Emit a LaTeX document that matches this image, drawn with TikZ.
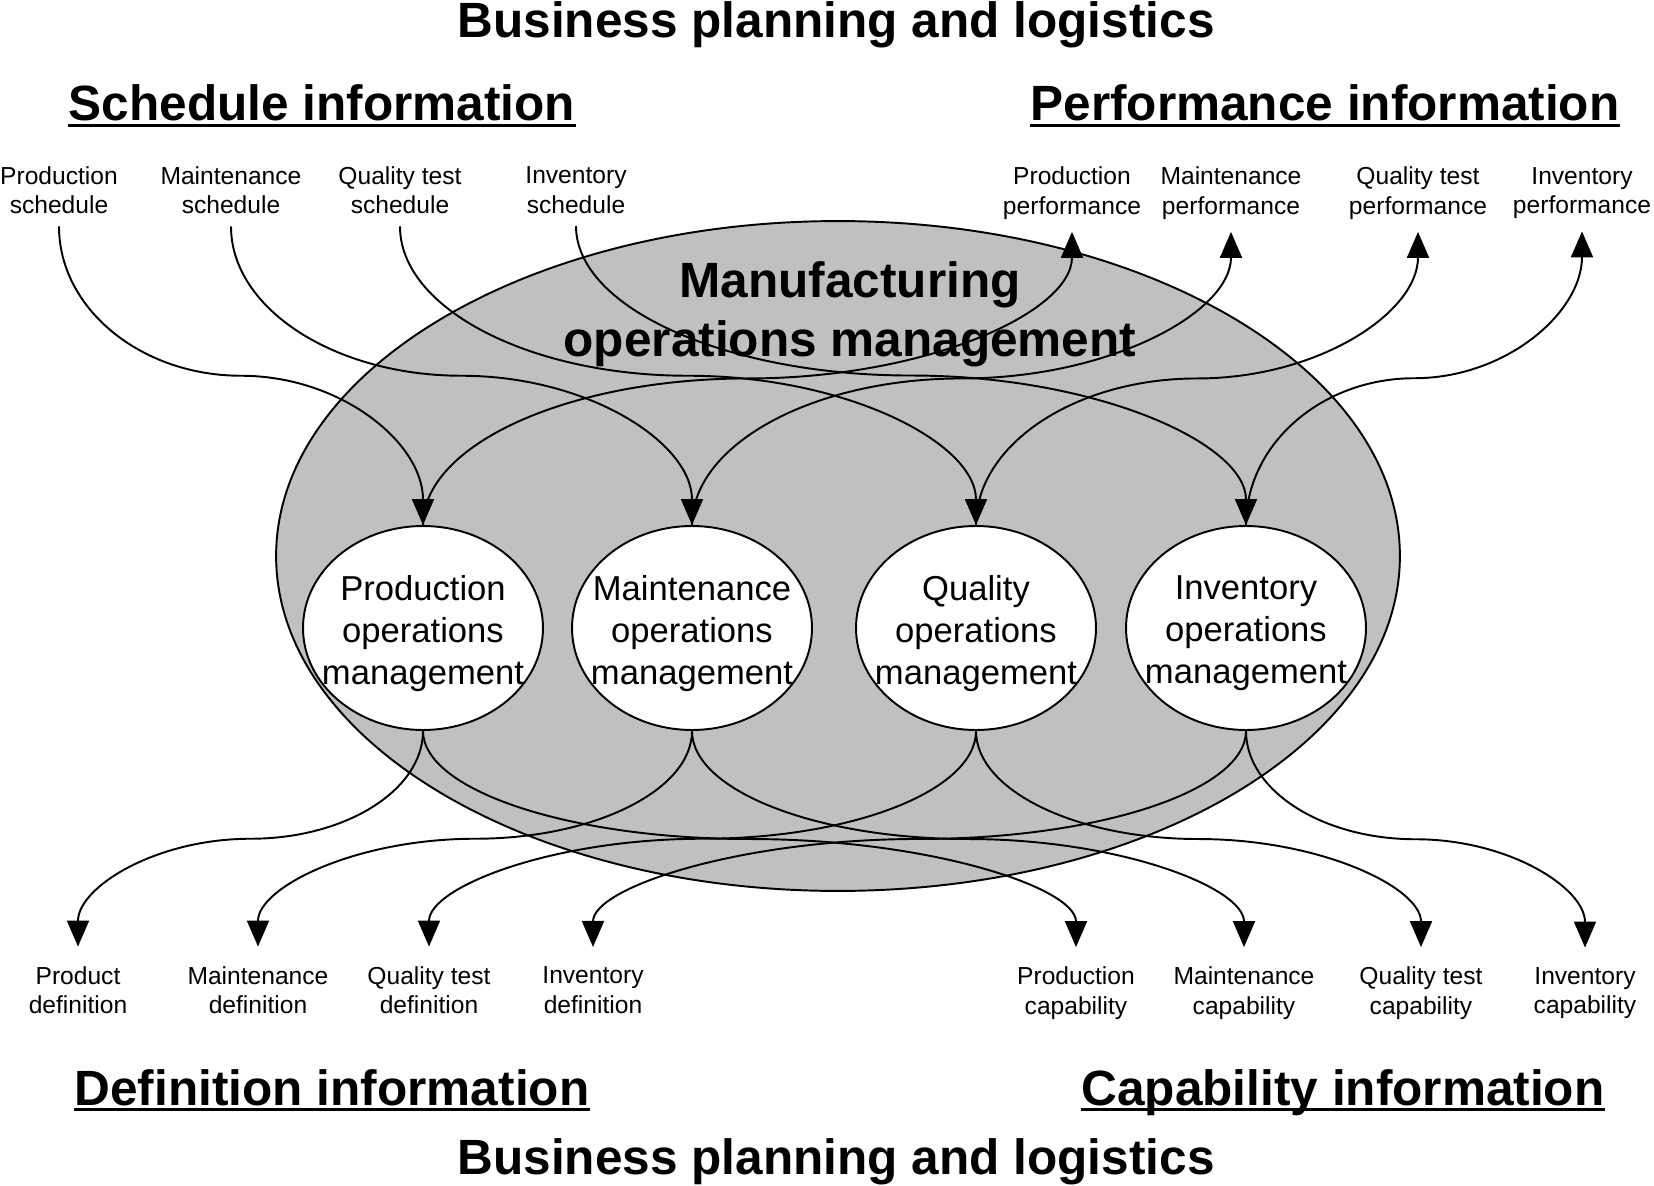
\documentclass[tikz,border=0pt]{standalone}
\usepackage{fontspec}
\setmainfont{Liberation Sans}
\usetikzlibrary{shapes.geometric,arrows.meta,positioning,calc}
\definecolor{momgray}{RGB}{192,192,192}

\begin{document}
\begin{tikzpicture}[
    x=0.02cm, y=-0.02cm,
    mom/.style={ellipse, draw=black, line width=1.1pt, fill=momgray, minimum width=22.48cm, minimum height=13.4cm},
    unit/.style={ellipse, draw=black, line width=1.1pt, fill=white, minimum width=4.8cm, minimum height=4.08cm, inner sep=0pt},
    unittext/.style={align=center, font=\fontsize{19.7}{24}\selectfont, yshift=-3pt},
    bigtext/.style={font=\fontsize{28.2}{33.6}\selectfont\bfseries, align=center, inner sep=0pt},
    heading/.style={bigtext, text depth=0.22em, append after command={(\tikzlastnode.south west) edge[line width=1.7pt] (\tikzlastnode.south east)}},
    infoin/.style={align=center, font=\fontsize{14}{16.8}\selectfont, inner xsep=0pt, inner ysep=7pt},
    infoout/.style={infoin, inner ysep=11pt},
    arrow/.style={-{Triangle[length=0.52cm, width=0.44cm]}, line width=1.1pt},
    scurve/.style={to path={let \p1=(\tikztostart), \p2=(\tikztotarget) in
        .. controls (\x1, {0.725*\y1+0.275*\y2}) and ({0.775*\x1+0.225*\x2}, {0.5*\y1+0.5*\y2})
        .. ({0.5*\x1+0.5*\x2}, {0.5*\y1+0.5*\y2})
        .. controls ({0.225*\x1+0.775*\x2}, {0.5*\y1+0.5*\y2}) and (\x2, {0.275*\y1+0.725*\y2})
        .. (\tikztotarget) \tikztonodes}}
]

    \path[use as bounding box, fill=white] (0,0) rectangle (1654,1186);

    % Manufacturing operations management (big ellipse)
    \node[mom] (mom) at (838,556) {};
    \node[bigtext] (momtitle) at (850,314) {Manufacturing\\operations management};

    % Operations management units
    \node[unit, label={[unittext]center:Production\\operations\\management}] (prodops) at (423,628) {};
    \node[unit, label={[unittext]center:Maintenance\\operations\\management}] (maintops) at (692,628) {};
    \node[unit, label={[unittext]center:Quality\\operations\\management}] (qualops) at (976,628) {};
    \node[unit, label={[unittext]center:Inventory\\operations\\management}] (invops) at (1246,628) {};

    % Titles and headings
    \node[bigtext, anchor=base] (bpltop) at (836,38) {Business planning and logistics};
    \node[bigtext, anchor=base] (bplbottom) at (836,1174) {Business planning and logistics};
    \node[heading, anchor=base] (schedinfo) at (322,121) {Schedule information};
    \node[heading, anchor=base] (perfinfo) at (1325,121) {Performance information};
    \node[heading, anchor=base] (definfo) at (332,1105) {Definition information};
    \node[heading, anchor=base] (capinfo) at (1343,1105) {Capability information};

    % Schedule information (top left)
    \node[infoin] (prodsched) at (59,190) {Production\\schedule};
    \node[infoin] (maintsched) at (231,190) {Maintenance\\schedule};
    \node[infoin] (qualsched) at (400,190) {Quality test\\schedule};
    \node[infoin] (invsched) at (576,190) {Inventory\\schedule};

    % Performance information (top right)
    \node[infoin] (prodperf) at (1072,193) {Production\\performance};
    \node[infoin] (maintperf) at (1231,193) {Maintenance\\performance};
    \node[infoin] (qualperf) at (1418,193) {Quality test\\performance};
    \node[infoin] (invperf) at (1582,193) {Inventory\\performance};

    % Definition information (bottom left)
    \node[infoout] (proddef) at (78,990) {Product\\definition};
    \node[infoout] (maintdef) at (258,990) {Maintenance\\definition};
    \node[infoout] (qualdef) at (429,990) {Quality test\\definition};
    \node[infoout] (invdef) at (593,990) {Inventory\\definition};

    % Capability information (bottom right)
    \node[infoout] (prodcap) at (1076,993) {Production\\capability};
    \node[infoout] (maintcap) at (1244,993) {Maintenance\\capability};
    \node[infoout] (qualcap) at (1421,993) {Quality test\\capability};
    \node[infoout] (invcap) at (1585,993) {Inventory\\capability};

    % Schedules into the units
    \draw[arrow] (prodsched.south) to[scurve] (prodops.north);
    \draw[arrow] (maintsched.south) to[scurve] (maintops.north);
    \draw[arrow] (qualsched.south) to[scurve] (qualops.north);
    \draw[arrow] (invsched.south) to[scurve] (invops.north);

    % Performance out of the units
    \draw[arrow] (prodops.north) to[scurve] (prodperf.south);
    \draw[arrow] (maintops.north) to[scurve] (maintperf.south);
    \draw[arrow] (qualops.north) to[scurve] (qualperf.south);
    \draw[arrow] (invops.north) to[scurve] (invperf.south);

    % Definitions out of the units
    \draw[arrow] (prodops.south) to[scurve] (proddef.north);
    \draw[arrow] (maintops.south) to[scurve] (maintdef.north);
    \draw[arrow] (qualops.south) to[scurve] (qualdef.north);
    \draw[arrow] (invops.south) to[scurve] (invdef.north);

    % Capabilities out of the units
    \draw[arrow] (prodops.south) to[scurve] (prodcap.north);
    \draw[arrow] (maintops.south) to[scurve] (maintcap.north);
    \draw[arrow] (qualops.south) to[scurve] (qualcap.north);
    \draw[arrow] (invops.south) to[scurve] (invcap.north);

\end{tikzpicture}
\end{document}
